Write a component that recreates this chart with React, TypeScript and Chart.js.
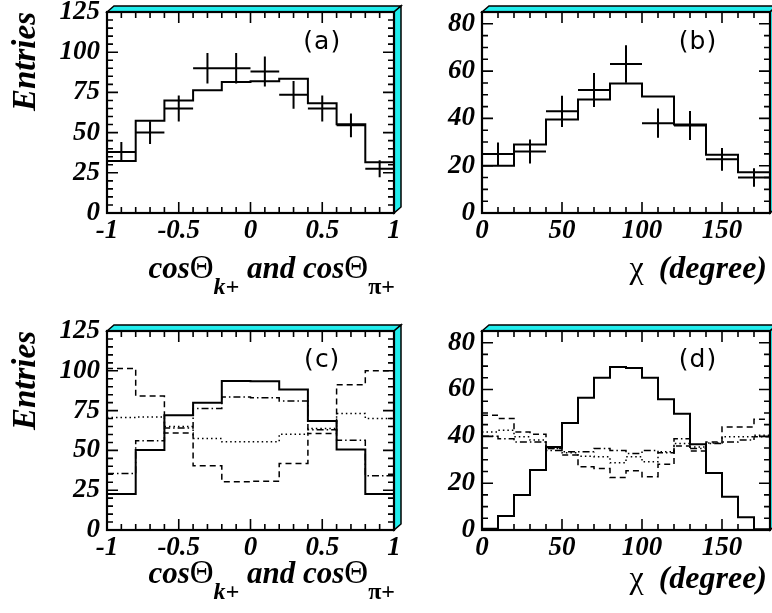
import React, { useEffect, useRef } from 'react';
import { Chart, registerables } from 'chart.js';

Chart.register(...registerables);

// ---------- data ----------
const cosEdges = [-1, -0.8, -0.6, -0.4, -0.2, 0, 0.2, 0.4, 0.6, 0.8, 1];
const chiEdges20 = [0, 20, 40, 60, 80, 100, 120, 140, 160, 180];
const chiEdges10 = [0, 10, 20, 30, 40, 50, 60, 70, 80, 90, 100, 110, 120, 130, 140, 150, 160, 170, 180];

const cosTickValues = [-1, -0.5, 0, 0.5, 1];
const cosTickLabels = ['-1', '-0.5', '0', '0.5', '1'];
const chiTickValues = [0, 50, 100, 150];
const chiTickLabels = ['0', '50', '100', '150'];
const entriesTickValues = [0, 25, 50, 75, 100, 125];
const entriesTickLabels = ['0', '25', '50', '75', '100', '125'];
const chiEntriesTickValues = [0, 20, 40, 60, 80];
const chiEntriesTickLabels = ['0', '20', '40', '60', '80'];

// (a)
const aFit = [32.3, 57.3, 70, 76.3, 81.5, 82, 83.5, 68.3, 55.2, 31.5];
const aData = [38, 50, 65, 90, 90, 88, 73.5, 65, 54.5, 27.5];
const aErr = [6.2, 7.1, 8.1, 9.5, 9.5, 9.4, 8.6, 8.1, 7.4, 5.3];

// (b)
const bFit = [20, 29, 39.5, 48, 54.8, 49.3, 37.4, 24.6, 17.2];
const bData = [25, 26, 43, 52, 63, 38, 37, 22.7, 15];
const bErr = [4.8, 5.1, 6.6, 7.2, 7.9, 6.2, 6.1, 4.8, 3.9];

// (c)
const cSolid = [22.6, 50.2, 72.1, 80, 93.6, 93.4, 88.2, 68.4, 50.6, 22.6];
const cDashed = [101.4, 84.2, 61, 40.3, 30.3, 30.7, 41.8, 60.6, 91.3, 100];
const cDashDot = [35.5, 56, 64, 76.3, 83.6, 83, 81.1, 63, 56.4, 34];
const cDotted = [70.7, 71, 65, 57.5, 55.4, 55.4, 60.2, 63.8, 73.2, 70];

// (d)
const dSolid = [0.5, 6, 15, 25.6, 35.5, 45.7, 56.5, 65, 69.6, 69.2, 65, 55.8, 49.7, 36.6, 24.4, 14.2, 5.4, 0.3];
const dDashed = [49, 47.6, 41.9, 40.9, 34.8, 32, 27, 26.3, 22.4, 25.3, 22.7, 28.1, 35.9, 33.7, 37.6, 44, 44, 47.3];
const dDotted = [41.9, 42.6, 39.8, 38.4, 34.8, 33, 31.5, 31.3, 28.7, 31.3, 29.1, 33.4, 36.9, 35.5, 37.2, 39.8, 39.8, 40.5];
const dDashDot = [40, 39, 37.6, 37.6, 34, 33.4, 33.4, 34.8, 34, 32.7, 34, 33, 39, 34.8, 36.9, 37.6, 38.4, 39.8];

// ---------- helpers ----------
const SERIF = '"Liberation Serif", "Times New Roman", serif';
const CYAN = '#22eeee';

function stepPoints(edges: number[], vals: number[]) {
  return edges.map((e, i) => ({ x: e, y: vals[Math.min(i, vals.length - 1)] }));
}

function crossPoints(edges: number[], vals: number[], errs: number[]) {
  const pts: any[] = [];
  for (let i = 0; i < vals.length; i++) {
    const c = (edges[i] + edges[i + 1]) / 2;
    pts.push({ x: edges[i], y: vals[i] }, { x: edges[i + 1], y: vals[i] }, { x: null, y: null });
    pts.push({ x: c, y: vals[i] - errs[i] }, { x: c, y: vals[i] + errs[i] }, { x: null, y: null });
  }
  return pts;
}

function stepSet(data: any[], dash: number[], width: number) {
  return {
    data,
    borderColor: '#000',
    borderWidth: width,
    borderDash: dash,
    borderCapStyle: 'butt',
    stepped: 'before',
    pointRadius: 0,
    fill: false,
  };
}

function crossSet(data: any[]) {
  return {
    data,
    borderColor: '#000',
    borderWidth: 2,
    pointRadius: 0,
    fill: false,
    spanGaps: false,
    stepped: false,
  };
}

type PanelCfg = {
  left: number; top: number; width: number; height: number;
  area: { l: number; t: number; r: number; b: number };
  xMin: number; xMax: number; yMin: number; yMax: number;
  xTicks: number[]; xLabels: string[]; xMinor: number;
  yTicks: number[]; yLabels: string[]; yMinor: number;
  datasets: any[];
  tag: string; tagPos: { x: number; y: number };
  xTitle: 'cos' | 'chi';
  xTitleBaseline: number;
  yTitle?: string;
};

const tickFont = { family: SERIF, size: 27, style: 'italic' as const, weight: 'bold' as const };

function drawCosTitle(ctx: CanvasRenderingContext2D, right: number, y0: number) {
  const main = `italic bold 31px ${SERIF}`;
  const theta = `normal 33px ${SERIF}`;
  const sub = `italic bold 24px ${SERIF}`;
  const subUp = `bold 24px ${SERIF}`;
  const pieces: { t: string; f: string; dy: number }[] = [
    { t: 'cos', f: main, dy: 0 },
    { t: 'Θ', f: theta, dy: 0 },
    { t: 'k+', f: sub, dy: 16 },
    { t: ' and cos', f: main, dy: 0 },
    { t: 'Θ', f: theta, dy: 0 },
    { t: 'π+', f: subUp, dy: 16 },
  ];
  let total = 0;
  const widths = pieces.map((p) => { ctx.font = p.f; const w = ctx.measureText(p.t).width; total += w; return w; });
  let x = right - total;
  ctx.textAlign = 'left';
  ctx.textBaseline = 'alphabetic';
  pieces.forEach((p, i) => { ctx.font = p.f; ctx.fillText(p.t, x, y0 + p.dy); x += widths[i]; });
}

function drawChiTitle(ctx: CanvasRenderingContext2D, right: number, y0: number) {
  const chi = `normal 32px ${SERIF}`;
  const main = `italic bold 32px ${SERIF}`;
  ctx.textBaseline = 'alphabetic';
  ctx.textAlign = 'right';
  ctx.font = main;
  ctx.fillText('(degree)', right, y0);
  const w = ctx.measureText('(degree)').width;
  ctx.font = chi;
  ctx.fillText('χ', right - w - 15, y0);
}

function makeFramePlugin(cfg: PanelCfg) {
  return {
    id: 'rootFrame' + cfg.tag.replace(/[()]/g, ''),
    afterDraw(chart: any) {
      const ctx: CanvasRenderingContext2D = chart.ctx;
      const { left: L, right: R, top: T, bottom: B } = chart.chartArea;
      const xs = chart.scales.x;
      const ys = chart.scales.y;
      const dx = 7, dy = 6;
      ctx.save();
      // 3D cyan bands
      ctx.fillStyle = CYAN;
      ctx.strokeStyle = '#000';
      ctx.lineWidth = 1.5;
      ctx.lineJoin = 'miter';
      ctx.beginPath();
      ctx.moveTo(L, T); ctx.lineTo(L + dx, T - dy); ctx.lineTo(R + dx, T - dy); ctx.lineTo(R, T); ctx.closePath();
      ctx.fill(); ctx.stroke();
      ctx.beginPath();
      ctx.moveTo(R, T); ctx.lineTo(R + dx, T - dy); ctx.lineTo(R + dx, B - dy); ctx.lineTo(R, B); ctx.closePath();
      ctx.fill(); ctx.stroke();
      // frame
      ctx.lineWidth = 2.2;
      ctx.strokeRect(L, T, R - L, B - T);
      // inward ticks
      ctx.lineWidth = 1.6;
      const majLen = 11, minLen = 6;
      const nx = Math.round((cfg.xMax - cfg.xMin) / cfg.xMinor);
      for (let i = 1; i < nx; i++) {
        const v = cfg.xMin + i * cfg.xMinor;
        const px = xs.getPixelForValue(v);
        const major = cfg.xTicks.some((m) => Math.abs(m - v) < 1e-6);
        const len = major ? majLen : minLen;
        ctx.beginPath();
        ctx.moveTo(px, B); ctx.lineTo(px, B - len);
        ctx.moveTo(px, T); ctx.lineTo(px, T + len);
        ctx.stroke();
      }
      const ny = Math.floor((cfg.yMax - cfg.yMin) / cfg.yMinor + 1e-6);
      for (let i = 1; i <= ny; i++) {
        const v = cfg.yMin + i * cfg.yMinor;
        if (v >= cfg.yMax - 1e-6) continue;
        const py = ys.getPixelForValue(v);
        const major = cfg.yTicks.some((m) => Math.abs(m - v) < 1e-6);
        const len = major ? majLen : minLen;
        ctx.beginPath();
        ctx.moveTo(L, py); ctx.lineTo(L + len, py);
        ctx.moveTo(R, py); ctx.lineTo(R - len, py);
        ctx.stroke();
      }
      // panel tag
      ctx.fillStyle = '#000';
      ctx.font = `25px "DejaVu Sans", sans-serif`;
      (ctx as any).letterSpacing = '1px';
      ctx.textAlign = 'center';
      ctx.textBaseline = 'middle';
      ctx.fillText(cfg.tag, xs.getPixelForValue(cfg.tagPos.x), ys.getPixelForValue(cfg.tagPos.y));
      (ctx as any).letterSpacing = '0px';
      // x title
      if (cfg.xTitle === 'cos') drawCosTitle(ctx, R + 1, cfg.xTitleBaseline);
      else drawChiTitle(ctx, R - 3, cfg.xTitleBaseline);
      // y title
      if (cfg.yTitle) {
        ctx.save();
        ctx.translate(35, T);
        ctx.rotate(-Math.PI / 2);
        ctx.font = `italic bold 33px ${SERIF}`;
        ctx.textAlign = 'right';
        ctx.textBaseline = 'alphabetic';
        ctx.fillText(cfg.yTitle, 0, 0);
        ctx.restore();
      }
      ctx.restore();
    },
  };
}

function Panel({ cfg }: { cfg: PanelCfg }) {
  const ref = useRef<HTMLCanvasElement | null>(null);
  useEffect(() => {
    if (!ref.current) return;
    const { area, width, height } = cfg;
    const zeroPad = (s: any) => { s.paddingTop = 0; s.paddingBottom = 0; s.paddingLeft = 0; s.paddingRight = 0; };
    const chart = new Chart(ref.current, {
      type: 'line',
      data: { datasets: cfg.datasets },
      options: {
        animation: false,
        responsive: false,
        maintainAspectRatio: false,
        devicePixelRatio: 1,
        events: [],
        layout: { padding: { left: 0, top: area.t, right: width - area.r, bottom: 0 } },
        plugins: { legend: { display: false }, tooltip: { enabled: false }, title: { display: false } },
        elements: { point: { radius: 0, hoverRadius: 0 }, line: { tension: 0 } },
        scales: {
          x: {
            type: 'linear',
            min: cfg.xMin,
            max: cfg.xMax,
            afterBuildTicks: (s: any) => { s.ticks = cfg.xTicks.map((v) => ({ value: v })); },
            afterFit: (s: any) => { s.height = height - area.b; zeroPad(s); },
            ticks: {
              font: tickFont,
              color: '#000',
              padding: 2,
              maxRotation: 0,
              autoSkip: false,
              callback: (_v: any, i: number) => cfg.xLabels[i],
            },
            grid: { display: false, drawTicks: false },
            border: { display: false },
          },
          y: {
            type: 'linear',
            min: cfg.yMin,
            max: cfg.yMax,
            afterBuildTicks: (s: any) => { s.ticks = cfg.yTicks.map((v) => ({ value: v })); },
            afterFit: (s: any) => { s.width = area.l; zeroPad(s); },
            ticks: {
              font: tickFont,
              color: '#000',
              padding: 7,
              autoSkip: false,
              callback: (_v: any, i: number) => cfg.yLabels[i],
            },
            grid: { display: false, drawTicks: false },
            border: { display: false },
          },
        },
      } as any,
      plugins: [makeFramePlugin(cfg)],
    });
    return () => chart.destroy();
  }, [cfg]);
  return (
    <canvas
      ref={ref}
      width={cfg.width}
      height={cfg.height}
      style={{ position: 'absolute', left: cfg.left, top: cfg.top, width: cfg.width, height: cfg.height }}
    />
  );
}

const panels: PanelCfg[] = [
  {
    left: 0, top: 0, width: 405, height: 300,
    area: { l: 107, t: 12, r: 394, b: 213 },
    xMin: -1, xMax: 1, yMin: 0, yMax: 125,
    xTicks: cosTickValues, xLabels: cosTickLabels, xMinor: 0.1,
    yTicks: entriesTickValues, yLabels: entriesTickLabels, yMinor: 5,
    datasets: [stepSet(stepPoints(cosEdges, aFit), [], 2), crossSet(crossPoints(cosEdges, aData, aErr))],
    tag: '(a)', tagPos: { x: 0.5, y: 106 },
    xTitle: 'cos', xTitleBaseline: 278, yTitle: 'Entries',
  },
  {
    left: 405, top: 0, width: 367, height: 300,
    area: { l: 77, t: 12, r: 365, b: 213 },
    xMin: 0, xMax: 180, yMin: 0, yMax: 85,
    xTicks: chiTickValues, xLabels: chiTickLabels, xMinor: 10,
    yTicks: chiEntriesTickValues, yLabels: chiEntriesTickLabels, yMinor: 5,
    datasets: [stepSet(stepPoints(chiEdges20, bFit), [], 2), crossSet(crossPoints(chiEdges20, bData, bErr))],
    tag: '(b)', tagPos: { x: 135, y: 72 },
    xTitle: 'chi', xTitleBaseline: 278,
  },
  {
    left: 0, top: 300, width: 405, height: 313,
    area: { l: 107, t: 31, r: 394, b: 230 },
    xMin: -1, xMax: 1, yMin: 0, yMax: 125,
    xTicks: cosTickValues, xLabels: cosTickLabels, xMinor: 0.1,
    yTicks: entriesTickValues, yLabels: entriesTickLabels, yMinor: 5,
    datasets: [
      stepSet(stepPoints(cosEdges, cDotted), [1.5, 3], 1.5),
      stepSet(stepPoints(cosEdges, cDashDot), [7, 3, 1.5, 3], 1.5),
      stepSet(stepPoints(cosEdges, cDashed), [6, 4], 1.5),
      stepSet(stepPoints(cosEdges, cSolid), [], 2),
    ],
    tag: '(c)', tagPos: { x: 0.5, y: 106.5 },
    xTitle: 'cos', xTitleBaseline: 283, yTitle: 'Entries',
  },
  {
    left: 405, top: 300, width: 367, height: 313,
    area: { l: 77, t: 31, r: 365, b: 230 },
    xMin: 0, xMax: 180, yMin: 0, yMax: 85,
    xTicks: chiTickValues, xLabels: chiTickLabels, xMinor: 10,
    yTicks: chiEntriesTickValues, yLabels: chiEntriesTickLabels, yMinor: 5,
    datasets: [
      stepSet(stepPoints(chiEdges10, dDotted), [1.5, 3], 1.5),
      stepSet(stepPoints(chiEdges10, dDashDot), [7, 3, 1.5, 3], 1.5),
      stepSet(stepPoints(chiEdges10, dDashed), [6, 4], 1.5),
      stepSet(stepPoints(chiEdges10, dSolid), [], 2),
    ],
    tag: '(d)', tagPos: { x: 135, y: 72.5 },
    xTitle: 'chi', xTitleBaseline: 288,
  },
];

export default function App() {
  return (
    <div style={{ position: 'absolute', left: 0, top: 0, width: 772, height: 613, background: '#fff', overflow: 'hidden' }}>
      {panels.map((p) => (
        <Panel key={p.tag} cfg={p} />
      ))}
    </div>
  );
}
